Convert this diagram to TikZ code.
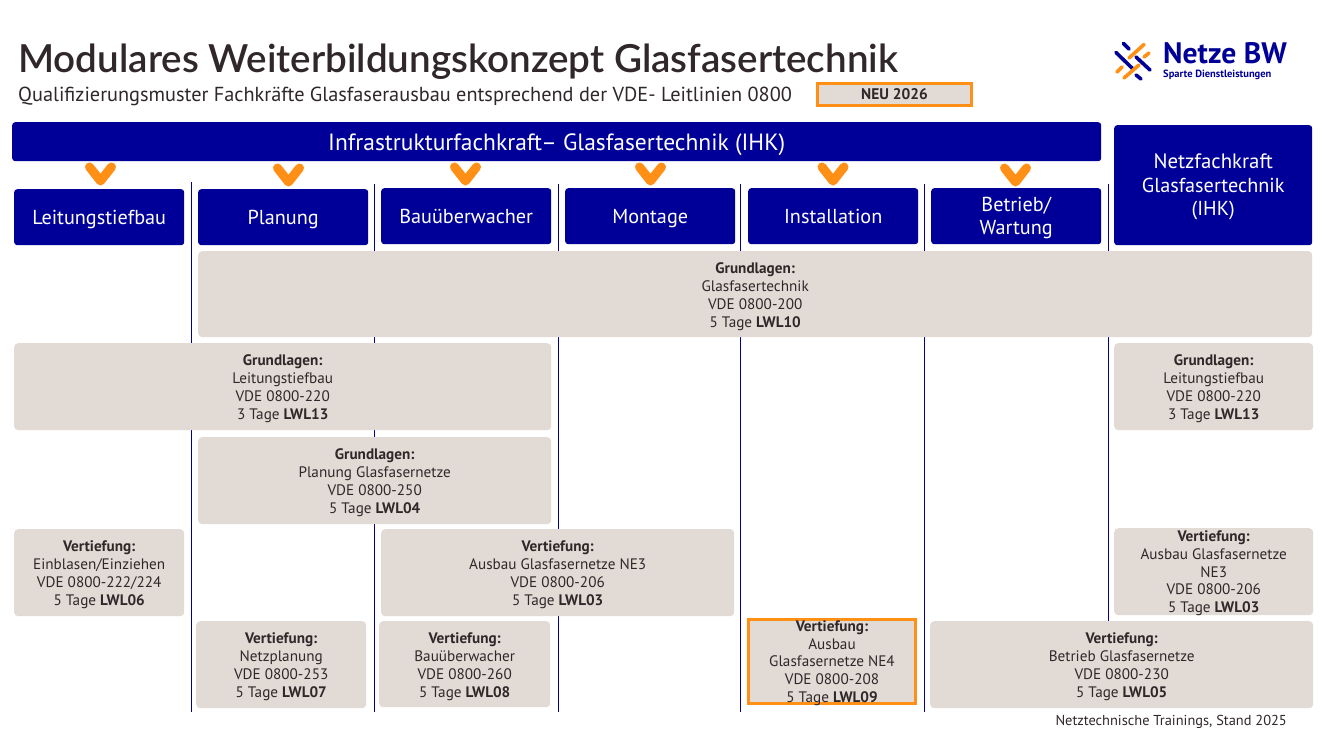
\documentclass[tikz,border=0pt]{standalone}
\usepackage{fontspec}
\setmainfont{PT Sans}
\newfontfamily\titlefont{Lato Semibold}
\definecolor{nblue}{HTML}{000099}
\definecolor{norange}{HTML}{FF9015}
\definecolor{ngrey}{HTML}{E2DAD4}
\definecolor{ntext}{HTML}{30272A}
\tikzset{
  x=1pt,y=-1pt,
  bluebox/.style={fill=nblue,rounded corners=3pt,anchor=north west,inner sep=0pt,align=center,text=white,font=\fontsize{20.2}{23.5}\selectfont},
  greybox/.style={fill=ngrey,rounded corners=4pt,anchor=north west,inner sep=0pt,align=center,text=ntext,font=\fontsize{15.2}{17.9}\selectfont},
  tightbox/.style={font=\fontsize{15.2}{17.6}\selectfont},
  neubox/.style={greybox,rounded corners=0pt,draw=norange,line width=3pt},
  vline/.style={draw=nblue,line width=0.9pt},
  chevron/.style={draw=norange,line width=9pt,line cap=round,line join=round},
  logoblue/.style={draw=nblue,line width=3.6pt,line cap=round},
  logoorange/.style={draw=norange,line width=3.6pt,line cap=round},
  plain/.style={inner sep=0pt,text=ntext}
}
\newcommand{\gup}{\rule{0pt}{15.5pt}}
\newcommand{\gdn}{\rule[-3pt]{0pt}{0pt}}
\newcommand{\bup}{\rule{0pt}{19pt}}
\newcommand{\bdn}{\rule[-5pt]{0pt}{0pt}}
\newcommand{\bbox}[6]{\node[bluebox,minimum width=#4pt,minimum height=#5pt] (#1) at (#2,#3) {\bup #6\bdn};}
\newcommand{\gbox}[6]{\node[greybox,minimum width=#4pt,minimum height=#5pt] (#1) at (#2,#3) {\gup #6\gdn};}
\newcommand{\chev}[2]{\draw[chevron] (#1-11,#2-7) -- (#1,#2+7) -- (#1+11,#2-7);}
\begin{document}
\begin{tikzpicture}
\useasboundingbox (0,0) rectangle (1330,741);
\fill[white] (0,0) rectangle (1330,741);
% vertical lines
\coordinate (l1a) at (191.5,182); \coordinate (l1b) at (191.5,712);
\coordinate (l2a) at (374.5,184); \coordinate (l2b) at (374.5,712);
\coordinate (l3a) at (558.5,184); \coordinate (l3b) at (558.5,712);
\coordinate (l4a) at (740.5,184); \coordinate (l4b) at (740.5,712);
\coordinate (l5a) at (924.5,184); \coordinate (l5b) at (924.5,712);
\coordinate (l6a) at (1108,184); \coordinate (l6b) at (1108,707);
\foreach \n in {1,...,6} \draw[vline] (l\n a) -- (l\n b);
% title
\node[plain,anchor=base west,font=\titlefont\fontsize{38.6}{42}\selectfont] (title) at (18,72.5) {Modulares Weiterbildungskonzept Glasfasertechnik};
\node[plain,anchor=base west,font=\fontsize{20.3}{24}\selectfont] (subtitle) at (18,101.5) {Qualifizierungsmuster Fachkräfte Glasfaserausbau entsprechend der VDE- Leitlinien 0800};
\node[neubox,minimum width=154pt,minimum height=22.5pt,font=\bfseries\fontsize{15.4}{17}\selectfont] (neu) at (816,81.7) {NEU 2026};
% logo
\draw[logoblue] (1123.5,43.5) -- (1129,49);
\draw[logoblue] (1116,52.5) -- (1133,69);
\draw[logoblue] (1136,57) -- (1150,70);
\draw[logoblue] (1136,75) -- (1141,79);
\draw[logoorange] (1144,44.5) -- (1129,58);
\draw[logoorange] (1149,53) -- (1144,57);
\draw[logoorange] (1117,72) -- (1122,67);
\draw[logoorange] (1124,78) -- (1139,65);
\node[anchor=base west,inner sep=0pt,text=nblue,font=\fontsize{29.6}{32}\selectfont] (nbw) at (1163,64) {\textbf{Netze BW}};
\node[anchor=base west,inner sep=0pt,text=nblue,font=\fontsize{10.5}{12}\selectfont\bfseries] (sparte) at (1163,78) {Sparte Dienstleistungen};
% blue
\bbox{infra}{12}{122}{1089}{39}{\fontsize{23.5}{27}\selectfont\rule{0pt}{23pt}Infrastrukturfachkraft– Glasfasertechnik (IHK)}
\bbox{leit}{14}{189}{170}{56}{Leitungstiefbau}
\bbox{plan}{198}{189}{170}{56}{Planung}
\bbox{bau}{381}{188}{170}{56}{Bauüberwacher}
\bbox{mont}{565}{188}{170}{56}{Montage}
\bbox{inst}{748}{188}{170}{56}{Installation}
\bbox{betr}{931}{188}{170}{56}{Betrieb/\\Wartung}
\bbox{netz}{1114}{125}{198}{120}{\fontsize{20.8}{23.5}\selectfont Netzfachkraft\\Glasfasertechnik\\(IHK)}
% chevrons
\chev{100.5}{174}\chev{288.5}{175}\chev{465.5}{174}\chev{650.5}{174}\chev{833}{174}\chev{1015.5}{175}
% grey
\gbox{g10}{198}{251}{1114}{86}{\textbf{Grundlagen:}\\Glasfasertechnik\\VDE 0800-200\\5 Tage \textbf{LWL10}}
\gbox{g13}{14}{343}{537}{87}{\textbf{Grundlagen:}\\Leitungstiefbau\\VDE 0800-220\\3 Tage \textbf{LWL13}}
\gbox{g13b}{1114}{343}{199}{87}{\textbf{Grundlagen:}\\Leitungstiefbau\\VDE 0800-220\\3 Tage \textbf{LWL13}}
\gbox{g04}{198}{437}{353}{87}{\textbf{Grundlagen:}\\Planung Glasfasernetze\\VDE 0800-250\\5 Tage \textbf{LWL04}}
\gbox{v06}{14}{529}{170}{87}{\textbf{Vertiefung:}\\Einblasen/Einziehen\\VDE 0800-222/224\\5 Tage \textbf{LWL06}}
\gbox{v03}{381}{529}{353}{87}{\textbf{Vertiefung:}\\Ausbau Glasfasernetze NE3\\VDE 0800-206\\5 Tage \textbf{LWL03}}
\node[greybox,tightbox,minimum width=199pt,minimum height=87pt] (v03b) at (1114,528) {\textbf{Vertiefung:}\\Ausbau Glasfasernetze\\NE3\\VDE 0800-206\\\smash{5 Tage \textbf{LWL03}}};
\gbox{v07}{196}{621}{170}{87}{\textbf{Vertiefung:}\\Netzplanung\\VDE 0800-253\\5 Tage \textbf{LWL07}}
\gbox{v08}{379}{621}{171}{86}{\textbf{Vertiefung:}\\Bauüberwacher\\VDE 0800-260\\5 Tage \textbf{LWL08}}
\node[neubox,tightbox,minimum width=167pt,minimum height=84pt] (v09) at (747,618) {\textbf{Vertiefung:}\\Ausbau\\Glasfasernetze NE4\\VDE 0800-208\\\smash{5 Tage \textbf{LWL09}}};
\gbox{v05}{930}{621}{383}{87}{\textbf{Vertiefung:}\\Betrieb Glasfasernetze\\VDE 0800-230\\5 Tage \textbf{LWL05}}
\node[plain,anchor=base east,font=\fontsize{14.4}{16}\selectfont] (stand) at (1287,725) {Netztechnische Trainings, Stand 2025};
\end{tikzpicture}
\end{document}
